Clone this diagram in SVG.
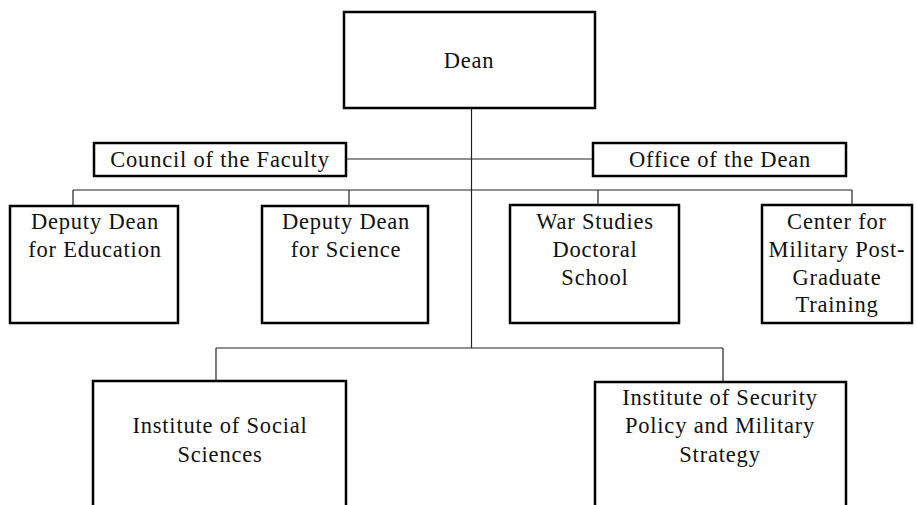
<svg xmlns="http://www.w3.org/2000/svg" width="917" height="505" viewBox="0 0 917 505">
<style>
.box{fill:#fff;stroke:#000;stroke-width:2.5}
.ln{stroke:#222;stroke-width:1.2;fill:none}
text{font-family:"Liberation Serif","Times New Roman",serif;font-size:22.5px;letter-spacing:0.8px;fill:#111;text-anchor:middle}
</style>
<rect width="917" height="505" fill="#fff"/>
<g id="connectors">
<line class="ln" x1="471.5" y1="108" x2="471.5" y2="348"/>
<line class="ln" x1="346" y1="159" x2="593" y2="159"/>
<line class="ln" x1="73" y1="190" x2="852" y2="190"/>
<line class="ln" x1="73" y1="190" x2="73" y2="206"/>
<line class="ln" x1="349" y1="190" x2="349" y2="206"/>
<line class="ln" x1="598" y1="190" x2="598" y2="205"/>
<line class="ln" x1="852" y1="190" x2="852" y2="205"/>
<line class="ln" x1="216" y1="348" x2="723" y2="348"/>
<line class="ln" x1="216" y1="348" x2="216" y2="381"/>
<line class="ln" x1="723" y1="348" x2="723" y2="382"/>
</g>
<g id="dean"><rect class="box" x="344" y="12" width="251" height="96"/><text x="469" y="68">Dean</text></g>
<g id="council"><rect class="box" x="94" y="143" width="252" height="33"/><text x="220" y="167">Council of the Faculty</text></g>
<g id="office"><rect class="box" x="593" y="143" width="253" height="33"/><text x="720" y="167">Office of the Dean</text></g>
<g id="deputy-education"><rect class="box" x="10" y="206" width="168" height="117"/><text x="95" y="229">Deputy Dean</text><text x="95" y="257">for Education</text></g>
<g id="deputy-science"><rect class="box" x="262" y="206" width="166" height="117"/><text x="346" y="229">Deputy Dean</text><text x="346" y="257">for Science</text></g>
<g id="war-studies"><rect class="box" x="510" y="205" width="169" height="118"/><text x="595" y="229">War Studies</text><text x="595" y="257">Doctoral</text><text x="595" y="285">School</text></g>
<g id="center-military"><rect class="box" x="762" y="205" width="150" height="118"/><text x="837" y="229">Center for</text><text x="837" y="257">Military Post-</text><text x="837" y="285">Graduate</text><text x="837" y="312">Training</text></g>
<g id="inst-social"><rect class="box" x="93" y="381" width="253" height="140"/><text x="220" y="433">Institute of Social</text><text x="220" y="462">Sciences</text></g>
<g id="inst-security"><rect class="box" x="595" y="382" width="251" height="140"/><text x="720" y="405">Institute of Security</text><text x="720" y="433">Policy and Military</text><text x="720" y="462">Strategy</text></g>
</svg>
